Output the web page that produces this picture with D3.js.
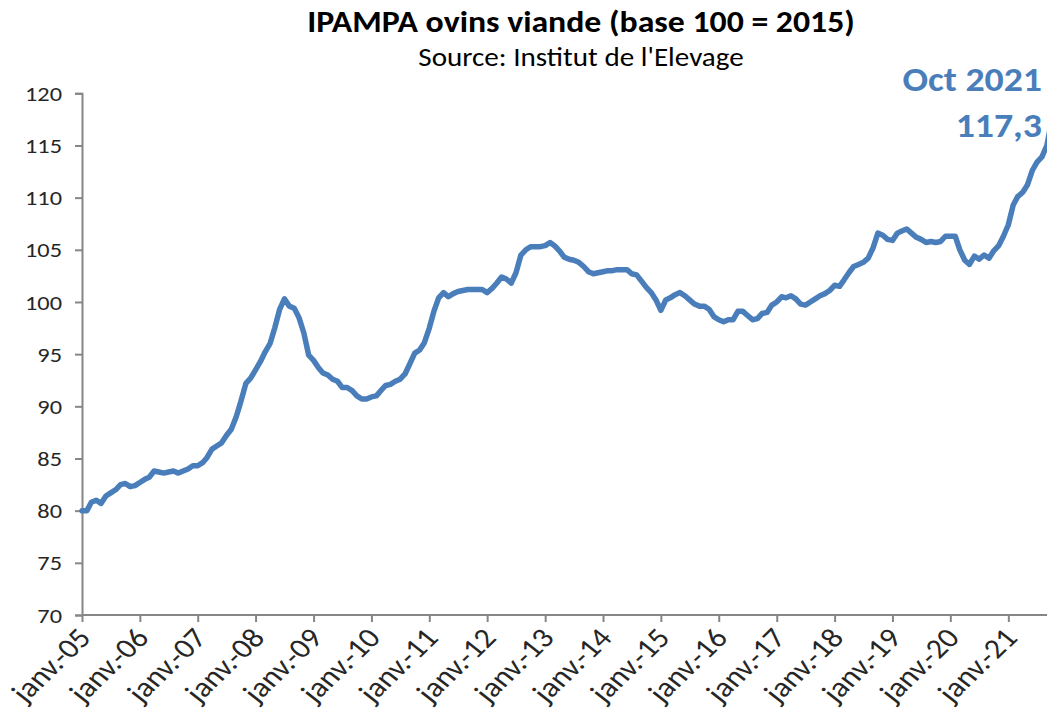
<!DOCTYPE html>
<html><head><meta charset="utf-8">
<script src="https://cdn.jsdelivr.net/npm/d3@7"></script>
<style>
html,body{margin:0;padding:0;background:#fff;}
svg{display:block;font-family:Carlito, Lato, sans-serif;}
</style></head>
<body>
<svg id="c" width="1047" height="727"></svg>
<script>
// Monthly index values, janv. 2005 -> oct. 2021
const startMonth = "2005-01";
const values = [
  80.0,80.0,80.8,81.0,80.7,81.4,81.7,82.0,82.5,82.6,82.3,82.4,
  82.7,83.0,83.2,83.8,83.7,83.6,83.7,83.8,83.6,83.8,84.0,84.3,
  84.3,84.6,85.1,85.9,86.2,86.5,87.2,87.8,89.0,90.5,92.2,92.7,
  93.5,94.3,95.2,96.0,97.5,99.3,100.3,99.6,99.4,98.5,97.0,94.9,
  94.4,93.7,93.2,93.0,92.6,92.4,91.8,91.8,91.5,91.0,90.7,90.7,
  90.9,91.0,91.5,92.0,92.1,92.4,92.6,93.1,94.1,95.1,95.4,96.1,
  97.5,99.2,100.4,100.9,100.5,100.8,101.0,101.1,101.2,101.2,101.2,101.2,
  100.9,101.3,101.8,102.4,102.2,101.8,102.8,104.5,105.0,105.3,105.3,105.3,
  105.4,105.7,105.4,104.9,104.3,104.1,104.0,103.8,103.4,102.9,102.7,102.8,
  102.9,103.0,103.0,103.1,103.1,103.1,102.7,102.6,102.0,101.4,100.9,100.2,
  99.2,100.2,100.4,100.7,100.9,100.6,100.2,99.8,99.6,99.6,99.3,98.6,
  98.3,98.1,98.3,98.3,99.1,99.1,98.7,98.3,98.4,98.9,99.0,99.7,
  100.0,100.5,100.4,100.6,100.3,99.8,99.7,100.0,100.3,100.6,100.8,101.1,
  101.6,101.5,102.1,102.8,103.4,103.6,103.8,104.2,105.2,106.6,106.4,106.0,
  105.9,106.6,106.8,107.0,106.6,106.2,106.0,105.7,105.8,105.7,105.8,106.3,
  106.3,106.3,105.0,104.0,103.6,104.4,104.1,104.5,104.2,104.9,105.4,106.3,
  107.4,109.3,110.1,110.5,111.2,112.6,113.4,113.9,115.0,117.3
];
const yTicks = [70,75,80,85,90,95,100,105,110,115,120];
const xTickYears = ["05","06","07","08","09","10","11","12","13","14","15","16","17","18","19","20","21"];
const title = "IPAMPA ovins viande (base 100 = 2015)";
const subtitle = "Source: Institut de l'Elevage";
const lastLabel = ["Oct 2021", "117,3"];

const svg = d3.select("#c");
const blue = "#4A7EBB", axisCol = "#868686", txt = "#262626";
const FONT = "Carlito, Lato, sans-serif";

const parse = d3.timeParse("%Y-%m");
const t0 = parse(startMonth);
const dates = values.map((v,i) => d3.timeMonth.offset(t0, i));
const data = values.map((v,i) => ({d: dates[i], v}));

const x = d3.scaleTime().domain([t0, dates[dates.length-1]]).range([82, 1051.6]);
const y = d3.scaleLinear().domain([70,120]).range([615, 93.3]);

// Y axis
const yAxis = d3.axisLeft(y).tickValues(yTicks).tickSize(7).tickPadding(12);
const gy = svg.append("g").attr("transform","translate(82,0)").call(yAxis);
gy.select(".domain").attr("stroke",axisCol).attr("stroke-width",2);
gy.selectAll(".tick line").attr("stroke",axisCol).attr("stroke-width",2);
gy.selectAll("text").attr("fill",txt).style("font-size","21px").style("font-family",FONT)
  .attr("x",null).attr("dy","0.34em")
  .attr("transform","translate(-20,0) scale(1.16,1)");

// X axis
const xTickDates = xTickYears.map(s => parse("20"+s+"-01"));
const xAxis = d3.axisBottom(x).tickValues(xTickDates).tickSize(7).tickSizeOuter(0)
  .tickFormat((d,i) => "janv.-" + xTickYears[i]);
const gx = svg.append("g").attr("transform","translate(0,615)").call(xAxis);
gx.select(".domain").attr("stroke",axisCol).attr("stroke-width",2).attr("d","M82,0H1060");
gx.selectAll(".tick line").attr("stroke",axisCol).attr("stroke-width",2);
gx.selectAll("text").attr("fill",txt).style("font-size","28px").style("font-family",FONT)
  .attr("text-anchor","end").attr("dy",null).attr("y",0)
  .attr("transform","translate(10,24) scale(1.15,1) rotate(-48)");

// Line
const line = d3.line().x(d => x(d.d)).y(d => y(d.v));
svg.append("path").datum(data).attr("d",line)
  .attr("fill","none").attr("stroke",blue).attr("stroke-width",5.5)
  .attr("stroke-linejoin","round").attr("stroke-linecap","round");

// Titles
function stretched(px, py, anchor, size, sx, weight, fill, str){
  svg.append("text").attr("transform",`translate(${px},${py}) scale(${sx},1)`)
    .attr("text-anchor",anchor).attr("font-weight",weight).attr("font-size",size)
    .attr("font-family",FONT).attr("fill",fill).text(str);
}
stretched(581, 32, "middle", 31, 1.09, "bold", "#000", title);
stretched(581, 66, "middle", 26, 1.12, "normal", "#000", subtitle);
stretched(1042, 91, "end", 35, 1.08, "bold", blue, lastLabel[0]);
stretched(1042, 137, "end", 35, 1.08, "bold", blue, lastLabel[1]);
</script>
</body></html>
